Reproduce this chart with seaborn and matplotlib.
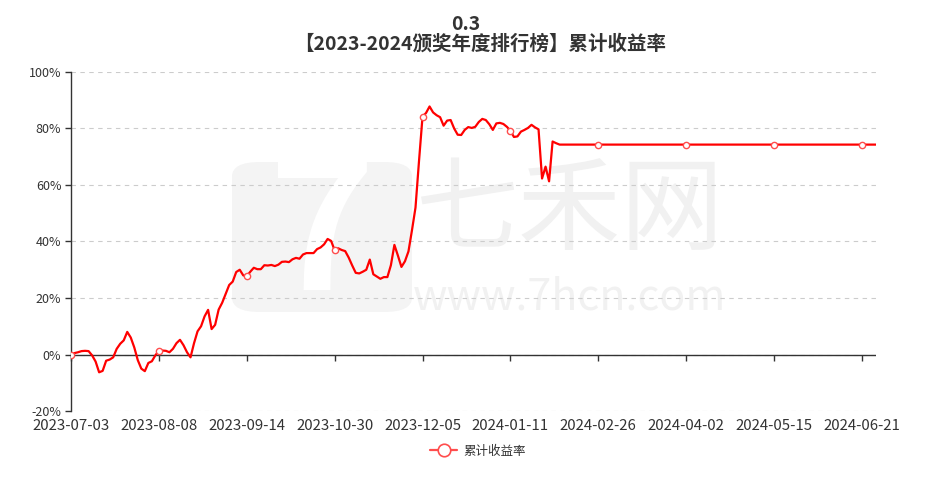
import matplotlib
matplotlib.use('Agg')
import matplotlib.pyplot as plt
from matplotlib.lines import Line2D
from matplotlib.patches import FancyBboxPatch
import seaborn as sns
import pandas as pd

sns.set_theme(style='white')
plt.rcParams['font.family'] = ['Noto Sans CJK SC', 'DejaVu Sans']
plt.rcParams['axes.unicode_minus'] = False

title_top = '0.3'
title_main = '【2023-2024颁奖年度排行榜】累计收益率'
series_name = '累计收益率'

tick_labels = ['2023-07-03', '2023-08-08', '2023-09-14', '2023-10-30', '2023-12-05',
               '2024-01-11', '2024-02-26', '2024-04-02', '2024-05-15', '2024-06-21']

# cumulative return (%), one value per trading day
returns_jul_aug = [0.0, 0.5, 0.8, 1.2, 1.3, 1.2, -0.3, -2.5, -6.3, -5.8, -2.2, -1.8, -1.0,
                   2.0, 3.8, 5.0, 8.0, 6.0, 2.5, -2.0, -5.0, -5.9, -3.0, -2.4, -0.3, 1.4]
returns_aug_sep = [1.4, 1.3, 0.8, 2.0, 4.0, 5.2, 3.3, 0.8, -1.0, 4.0, 8.2, 10.0, 13.5,
                   15.8, 9.0, 10.5, 15.9, 18.3, 21.4, 24.6, 25.8, 29.2, 30.0, 28.0, 27.7]
returns_sep_oct = [29.3, 30.7, 30.2, 30.2, 31.6, 31.5, 31.7, 31.3, 31.8, 32.8, 32.9, 32.7,
                   33.7, 34.2, 33.9, 35.4, 35.9, 35.9, 35.9, 37.3, 37.9, 39.0, 40.9, 40.2, 36.9]
returns_oct_dec = [37.6, 37.0, 36.6, 34.3, 31.5, 28.9, 28.7, 29.3, 30.0, 33.6, 28.4, 27.6,
                   26.8, 27.4, 27.4, 31.6, 38.8, 35.0, 31.0, 33.0, 36.5, 44.0, 52.0, 68.5, 84.2]
returns_dec_jan = [85.5, 87.8, 85.7, 84.7, 84.0, 81.0, 82.8, 83.0, 80.0, 77.8, 77.7, 79.5,
                   80.5, 80.2, 80.6, 82.3, 83.4, 83.0, 81.5, 79.5, 81.8, 82.0, 81.6, 80.6, 79.2]
returns_jan_feb = [77.0, 77.2, 78.9, 79.5, 80.2, 81.3, 80.4, 79.7, 62.3, 66.5, 61.3, 75.4, 74.8]
returns_flat = [74.3, 74.3, 74.3, 74.3, 74.3, 74.3, 74.3, 74.3, 74.3, 74.3, 74.3, 74.3, 74.3,
                74.3, 74.3, 74.3, 74.3, 74.3, 74.3, 74.3, 74.3, 74.3, 74.3, 74.3, 74.3, 74.3,
                74.3, 74.3, 74.3, 74.3, 74.3, 74.3, 74.3, 74.3, 74.3, 74.3, 74.3, 74.3, 74.3,
                74.3, 74.3, 74.3, 74.3, 74.3, 74.3, 74.3, 74.3, 74.3, 74.3, 74.3, 74.3, 74.3,
                74.3, 74.3, 74.3, 74.3, 74.3, 74.3, 74.3, 74.3, 74.3, 74.3, 74.3, 74.3, 74.3,
                74.3, 74.3, 74.3, 74.3, 74.3, 74.3, 74.3, 74.3, 74.3, 74.3, 74.3, 74.3, 74.3,
                74.3, 74.3, 74.3, 74.3, 74.3, 74.3, 74.3, 74.3, 74.3, 74.3, 74.3, 74.3, 74.3]

values = (returns_jul_aug + returns_aug_sep + returns_sep_oct + returns_oct_dec
          + returns_dec_jan + returns_jan_feb + returns_flat)
df = pd.DataFrame({'idx': range(len(values)), 'ret': values})

LINE_RED = '#ff0000'
TEXT = '#333333'
tick_step = 25
tick_pos = list(range(0, len(values), tick_step))

fig = plt.figure(figsize=(9.3, 4.82), dpi=100)
ax = fig.add_axes([71 / 930, 1 - 411 / 482, 805 / 930, 339 / 482])

# watermark (drawn inside the axes so the line stays on top)
logo = FancyBboxPatch((232 / 930, 1 - 312 / 482), 180 / 930, 150 / 482,
                      boxstyle='round,pad=0.0,rounding_size=0.03',
                      transform=fig.transFigure, fc='#f4f4f4', ec='none', zorder=0.1,
                      clip_on=False)
ax.add_patch(logo)
ax.text(322 / 930, 1 - 238 / 482, '7', fontsize=130, color='white', fontweight='bold',
        style='italic', ha='center', va='center', zorder=0.2, transform=fig.transFigure)
ax.text(570 / 930, 1 - 212 / 482, '七禾网', fontsize=74, color='#f1f1f1',
        ha='center', va='center', zorder=0.2, transform=fig.transFigure)
ax.text(570 / 930, 1 - 298 / 482, 'www.7hcn.com', fontsize=31, color='#f1f1f1',
        ha='center', va='center', zorder=0.2, transform=fig.transFigure)

sns.lineplot(data=df, x='idx', y='ret', ax=ax, color=LINE_RED, linewidth=1.6,
             marker='o', markevery=tick_pos, markersize=4.5, markerfacecolor='white',
             markeredgecolor='#ff4d4d', markeredgewidth=1.0, zorder=3)

ax.set_xlim(0, len(values) - 1)
ax.set_ylim(-20, 100)
ax.set_yticks(range(-20, 101, 20))
ax.set_yticklabels([f'{v}%' for v in range(-20, 101, 20)])
ax.set_xticks(tick_pos)
ax.set_xticklabels(tick_labels)
ax.set_xlabel('')
ax.set_ylabel('')

ax.grid(axis='y', color='#cccccc', linestyle=(0, (4, 4)), linewidth=0.8)
ax.set_axisbelow(True)
for side in ['top', 'right', 'bottom']:
    ax.spines[side].set_visible(False)
ax.spines['left'].set_color(TEXT)
ax.spines['left'].set_linewidth(1.0)
ax.tick_params(axis='y', left=True, length=4, width=1, color=TEXT, labelcolor=TEXT,
               labelsize=9, pad=3)
ax.tick_params(axis='x', bottom=False, length=0, labelcolor=TEXT, labelsize=10.8, pad=6)

# x axis line sits on 0
ax.axhline(0, color=TEXT, linewidth=1.0, zorder=2)
zero_axis = ax.secondary_xaxis(20 / 120)
zero_axis.set_xticks(tick_pos)
zero_axis.set_xticklabels([])
zero_axis.spines['bottom'].set_visible(False)
zero_axis.tick_params(axis='x', length=4, width=1, color=TEXT, direction='out')

fig.text(466 / 930, 1 - 24 / 482, title_top, fontsize=14, fontweight='bold', color=TEXT,
         ha='center', va='center')
fig.text(480 / 930, 1 - 44 / 482, title_main, fontsize=14, fontweight='bold', color=TEXT,
         ha='center', va='center')

handle = Line2D([], [], color='#ff4d4d', linewidth=1.6, marker='o', markersize=9,
                markerfacecolor='white', markeredgecolor='#ff4d4d', markeredgewidth=1.2)
fig.legend([handle], [series_name], loc='center', bbox_to_anchor=(478 / 930, 1 - 451 / 482),
           frameon=False, fontsize=9, handlelength=2.2, handletextpad=0.5, labelcolor=TEXT)

fig.savefig('out.png', dpi=100)
